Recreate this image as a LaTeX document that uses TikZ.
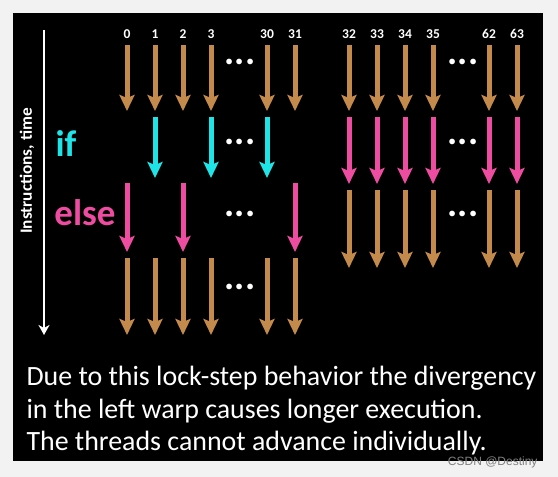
\documentclass[tikz,border=0pt]{standalone}
\usepackage{fontspec}
\setmainfont{Carlito}
\newfontfamily\markfont{Liberation Sans}
\usetikzlibrary{arrows.meta}
\definecolor{pagegray}{RGB}{242,242,242}
\definecolor{stepbrown}{RGB}{196,138,76}
\definecolor{ifcyan}{RGB}{30,228,232}
\definecolor{elsepink}{RGB}{238,76,160}
\definecolor{markgray}{RGB}{128,128,128}

\begin{document}
\begin{tikzpicture}[x=1pt, y=-1pt,
    thread/.style={line width=5pt, -{Stealth[length=16pt, width=15pt, inset=3pt]}},
    lanenum/.style={text=white, font=\bfseries\fontsize{13.5}{13.5}\selectfont, anchor=base},
    gapdots/.style={text=white, font=\bfseries\fontsize{38}{38}\selectfont, anchor=base},
    branch/.style={font=\bfseries\fontsize{37}{37}\selectfont, anchor=base},
    remark/.style={text=white, font=\fontsize{27.9}{33}\selectfont, anchor=base west}]
    \useasboundingbox (0,0) rectangle (558,477);
    \fill[pagegray] (0,0) rectangle (558,477);
    \fill[black] (13,13) rectangle (543,461);

    % time axis
    \draw[white, line width=2.5pt, -{Stealth[length=10pt, width=11pt, inset=3pt]}]
      (44,30) coordinate (tstart) -- (44,335) coordinate (tend);
    \node[text=white, font=\bfseries\fontsize{17.2}{17.2}\selectfont, rotate=90] (axis) at (27,171) {Instructions, time};

    % thread numbers
    \foreach \x/\n in {127/0,155/1,183/2,211/3,267/30,295/31,349/32,377/33,405/34,433/35,489/62,517/63}
      \node[lanenum] (n\n) at (\x,38) {\n};

    % common part before the branch
    \foreach \x in {127,155,183,211,267,295,349,377,405,433,489,517}
      \draw[thread, stepbrown] (\x,45) -- (\x,111);

    % left warp: if, then else, then the rest
    \node[branch, text=ifcyan] (iflabel) at (66,156) {if};
    \node[branch, text=elsepink] (elselabel) at (85,225.5) {else};
    \foreach \x in {155,211,267}
      \draw[thread, ifcyan] (\x,117) -- (\x,178);
    \foreach \x in {127,183,295}
      \draw[thread, elsepink] (\x,183) -- (\x,252);
    \foreach \x in {127,155,183,211,267,295}
      \draw[thread, stepbrown] (\x,258) -- (\x,335);

    % right warp: all threads take the same way
    \foreach \x in {349,377,405,433,489,517} {
      \draw[thread, elsepink] (\x,117) -- (\x,184);
      \draw[thread, stepbrown] (\x,190) -- (\x,268);
    }

    % gaps
    \foreach \y [count=\i] in {64.5,144.5,216.5,289.5}
      \node[gapdots] (ldots\i) at (240,\y) {...};
    \foreach \y [count=\i] in {64.5,144.5,216.5}
      \node[gapdots] (rdots\i) at (463,\y) {...};

    \node[remark] (line1) at (23,385) {Due to this lock-step behavior the divergency};
    \node[remark] (line2) at (23,418) {in the left warp causes longer execution.};
    \node[remark] (line3) at (23,450) {The threads cannot advance individually.};

    \node[text=markgray, font=\markfont\fontsize{12}{12}\selectfont, anchor=base east] (mark) at (541,465) {CSDN @Destiny};
  \end{tikzpicture}
\end{document}
